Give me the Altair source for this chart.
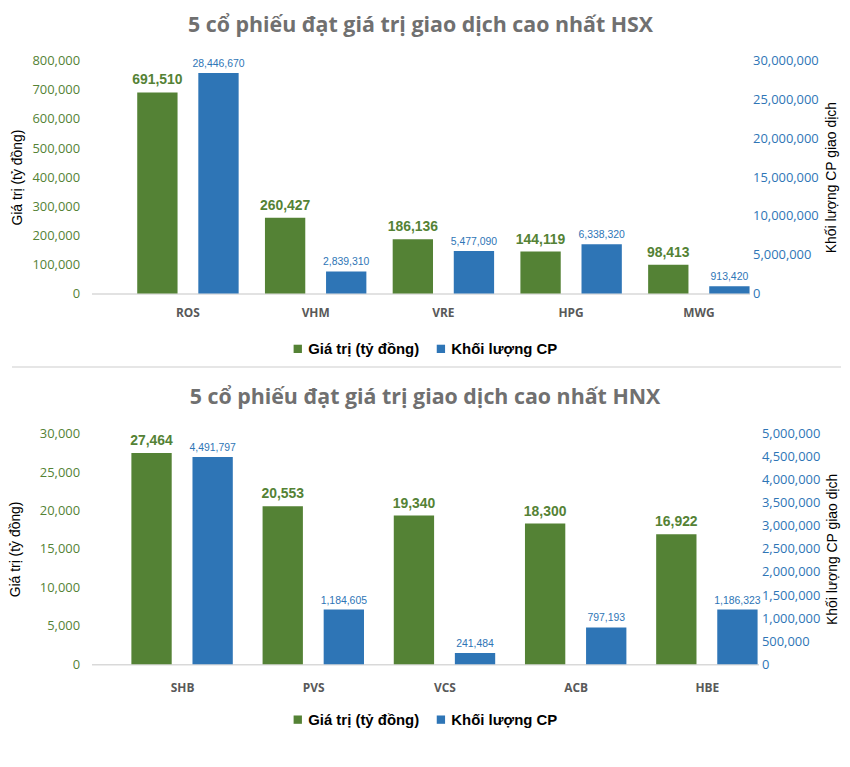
import altair as alt
import pandas as pd

S1 = "Giá trị (tỷ đồng)"
S2 = "Khối lượng CP"

hsx_tickers = ["ROS", "VHM", "VRE", "HPG", "MWG"]
hsx_value = [691510, 260427, 186136, 144119, 98413]
hsx_volume = [28446670, 2839310, 5477090, 6338320, 913420]

hnx_tickers = ["SHB", "PVS", "VCS", "ACB", "HBE"]
hnx_value = [27464, 20553, 19340, 18300, 16922]
hnx_volume = [4491797, 1184605, 241484, 797193, 1186323]

GREEN = "#548235"
BLUE = "#2E75B6"
GREY = "#595959"


def make_chart(title, tickers, values, volumes, vmax, vstep, qmax, qstep,
               width, pin, pout, ltitle_pad, xlabel_pad, legend_y, sep=False):
    dv = pd.DataFrame({"ticker": tickers, "val": values, "series": S1})
    dq = pd.DataFrame({"ticker": tickers, "val": volumes, "series": S2})

    x = alt.X("ticker:N", sort=tickers, title=None,
              scale=alt.Scale(paddingInner=pin, paddingOuter=pout, align=1),
              axis=alt.Axis(labelAngle=0, ticks=False, domainColor="#d9d9d9", domainWidth=1.5,
                            labelColor=GREY, labelFont="Open Sans", labelFontWeight="bold",
                            labelFontSize=12, labelPadding=xlabel_pad))
    xo = alt.XOffset("series:N", scale=alt.Scale(domain=[S1, S2], paddingInner=0.34, paddingOuter=0))
    color = alt.Color("series:N", scale=alt.Scale(domain=[S1, S2], range=[GREEN, BLUE]),
                      legend=alt.Legend(title=None, orient="none", direction="horizontal",
                                        legendX=200, legendY=legend_y, symbolType="square",
                                        symbolSize=70, symbolStrokeWidth=0,
                                        labelFont="Liberation Sans", labelFontWeight="bold",
                                        labelFontSize=15, labelColor="#000000",
                                        columnPadding=14, labelOffset=3))

    yv = alt.Y("val:Q", title="Giá trị (tỷ đồng)",
               scale=alt.Scale(domain=[0, vmax], nice=False),
               axis=alt.Axis(orient="left", values=list(range(0, vmax + 1, vstep)), format=",d",
                             grid=False, domain=False, ticks=False, labelColor=GREEN,
                             labelFont="Open Sans", labelFontSize=13, labelPadding=12,
                             titleColor="#000000", titleFont="Liberation Sans",
                             titleFontWeight="normal", titleFontSize=14, titlePadding=ltitle_pad))
    yq = alt.Y("val:Q", title="Khối lượng CP giao dịch",
               scale=alt.Scale(domain=[0, qmax], nice=False),
               axis=alt.Axis(orient="right", values=list(range(0, qmax + 1, qstep)), format=",d",
                             grid=False, domain=False, ticks=False, labelColor=BLUE,
                             labelFont="Open Sans", labelFontSize=13, labelPadding=3,
                             titleColor="#000000", titleFont="Liberation Sans",
                             titleFontWeight="normal", titleFontSize=14, titlePadding=6,
                             titleAngle=270, titleBaseline="top"))

    gbar = alt.Chart(dv).mark_bar().encode(x=x, xOffset=xo, y=yv, color=color)
    gtxt = alt.Chart(dv).mark_text(baseline="bottom", dy=-5, font="Liberation Sans",
                                   fontWeight="bold", fontSize=14, color=GREEN).encode(
        x=x, xOffset=xo, y=yv, text=alt.Text("val:Q", format=",d"))
    qbar = alt.Chart(dq).mark_bar().encode(x=x, xOffset=xo, y=yq, color=color)
    qtxt = alt.Chart(dq).mark_text(baseline="bottom", dy=-4, font="Liberation Sans",
                                   fontSize=10.5, color=BLUE).encode(
        x=x, xOffset=xo, y=yq, text=alt.Text("val:Q", format=",d"))

    ch = alt.layer(alt.layer(gbar, gtxt), alt.layer(qbar, qtxt)).resolve_scale(y="independent")
    if sep:
        rule = alt.Chart(dv).mark_rule(color="#e6e6e6", strokeWidth=2).encode(
            x=alt.value(-80), x2=alt.value(754), y=alt.value(308))
        ch = alt.layer(ch, rule).resolve_scale(y="independent")
    return ch.properties(
        width=width, height=234 if sep else 232,
        title=alt.TitleParams(title, anchor="middle", font="Open Sans", fontSize=21.5,
                              fontWeight="bold", color="#707070", offset=19))


top = make_chart("5 cổ phiếu đạt giá trị giao dịch cao nhất HSX", hsx_tickers, hsx_value,
                 hsx_volume, 800000, 100000, 30000000, 5000000,
                 width=662, pin=0.206, pout=0.179, ltitle_pad=7, xlabel_pad=14,
                 legend_y=282, sep=True)
bottom = make_chart("5 cổ phiếu đạt giá trị giao dịch cao nhất HNX", hnx_tickers, hnx_value,
                    hnx_volume, 30000, 5000, 5000000, 500000,
                    width=671, pin=0.22, pout=0.152, ltitle_pad=17, xlabel_pad=18,
                    legend_y=280)

chart = alt.vconcat(top, bottom, spacing=19).resolve_scale(color="independent").resolve_legend(
    color="independent").configure_view(stroke=None).properties(
    padding={"left": 0, "top": 4, "right": 0, "bottom": 0})

chart.save("out.html", embed_options={"renderer": "svg", "actions": False})
